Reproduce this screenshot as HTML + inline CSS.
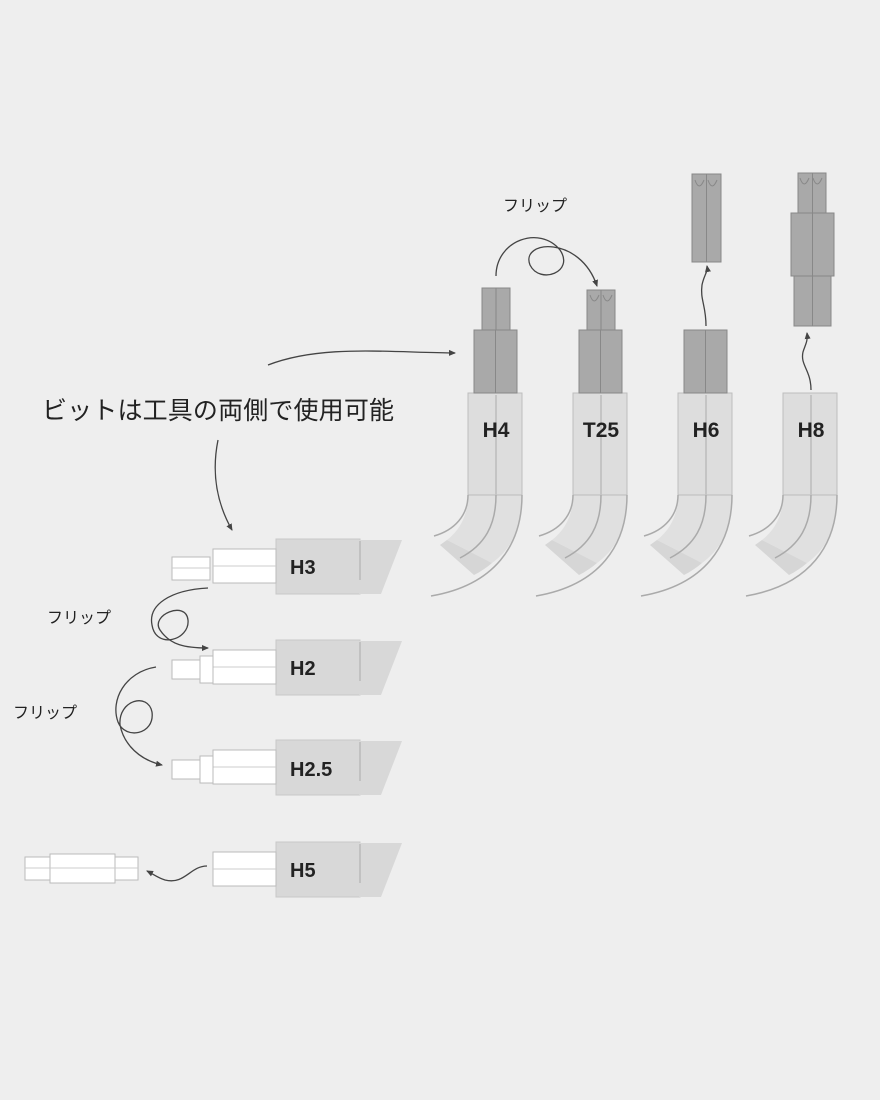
<!DOCTYPE html>
<html><head><meta charset="utf-8"><style>
html,body{margin:0;padding:0;background:#eeeeee;}
svg{display:block}
</style></head><body>
<svg width="880" height="1100" viewBox="0 0 880 1100" xmlns="http://www.w3.org/2000/svg">
<defs>
<marker id="ah" markerWidth="8" markerHeight="8" refX="6" refY="4" orient="auto" markerUnits="userSpaceOnUse"><path d="M0,1 L7,4 L0,7 Z" fill="#444"/></marker>
<g id="tool">
  <path d="M468,495 L522,495 C522,530 510,550 492,563 L447,540 C460,530 468,515 468,495 Z" fill="#e0e0e0"/>
  <path d="M447,540 L492,563 C486,568 480,572 474,575 L440,545 Z" fill="#d6d6d6"/>
  <rect x="468" y="393" width="54" height="102" fill="#dddddd" stroke="#bdbdbd"/>
  <line x1="468" y1="495" x2="522" y2="495" stroke="#bbb"/>
  <line x1="496" y1="395" x2="496" y2="495" stroke="#c4c4c4" stroke-width="2"/>
  <path d="M522,495 C522,545 495,585 431,596" fill="none" stroke="#aaa" stroke-width="1.5"/>
  <path d="M468,495 C468,515 455,530 434,536" fill="none" stroke="#aaa" stroke-width="1.5"/>
  <path d="M496,495 C496,525 485,545 460,558" fill="none" stroke="#aaa" stroke-width="1.5"/>
</g>
<g id="hex">
  <rect x="474" y="330" width="43" height="63" fill="#a9a9a9" stroke="#888"/>
  <line x1="495.5" y1="330" x2="495.5" y2="393" stroke="#888"/>
</g>
<g id="lbit">
  <rect x="276" y="539" width="84" height="55" fill="#d8d8d8" stroke="#c8c8c8"/>
  <path d="M359,540 L402,540 L381,594 L359,594 Z" fill="#d8d8d8"/>
  <line x1="360" y1="541" x2="360" y2="580" stroke="#aaa"/>
  <rect x="213" y="549" width="63" height="34" fill="#fff" stroke="#bbb"/>
  <line x1="213" y1="566" x2="276" y2="566" stroke="#ccc"/>
</g>
</defs>

<use href="#tool"/>
<use href="#tool" x="105"/>
<use href="#tool" x="210"/>
<use href="#tool" x="315"/>

<use href="#hex"/>
<rect x="482" y="288" width="28" height="42" fill="#a9a9a9" stroke="#888"/>
<line x1="496" y1="288" x2="496" y2="330" stroke="#888"/>
<use href="#hex" x="105"/>
<rect x="587" y="290" width="28" height="40" fill="#a9a9a9" stroke="#888"/>
<line x1="601" y1="290" x2="601" y2="330" stroke="#888"/>
<path d="M590,295 q4,12 9,0 M603,295 q4,12 9,0" fill="none" stroke="#888"/>
<use href="#hex" x="210"/>
<rect x="692" y="174" width="29" height="88" fill="#a9a9a9" stroke="#888"/>
<line x1="706.5" y1="174" x2="706.5" y2="262" stroke="#888"/>
<path d="M695,180 q4,12 9,0 M708,180 q4,12 9,0" fill="none" stroke="#888"/>
<rect x="798" y="173" width="28" height="40" fill="#a9a9a9" stroke="#888"/>
<path d="M800,178 q4,12 9,0 M813,178 q4,12 9,0" fill="none" stroke="#888"/>
<rect x="791" y="213" width="43" height="63" fill="#a9a9a9" stroke="#888"/>
<rect x="794" y="276" width="37" height="50" fill="#a9a9a9" stroke="#888"/>
<line x1="812.5" y1="173" x2="812.5" y2="326" stroke="#888"/>

<g font-family="Liberation Sans, sans-serif" font-weight="bold" font-size="21" fill="#222" text-anchor="middle">
<text x="496" y="437">H4</text>
<text x="601" y="437">T25</text>
<text x="706" y="437">H6</text>
<text x="811" y="437">H8</text>
</g>

<path d="M496,276 C496,240 540,225 560,250 C575,272 540,285 530,265 C520,240 580,235 597,286" fill="none" stroke="#444" stroke-width="1.3" marker-end="url(#ah)"/>
<path d="M706,326 C706,305 700,300 702,285 C704,275 708,272 707,266" fill="none" stroke="#444" stroke-width="1.3" marker-end="url(#ah)"/>
<path d="M811,390 C811,370 800,365 803,352 C805,345 808,342 807,333" fill="none" stroke="#444" stroke-width="1.3" marker-end="url(#ah)"/>

<path d="M268,365 C320,345 380,352 455,353" fill="none" stroke="#444" stroke-width="1.3" marker-end="url(#ah)"/>
<path d="M218,440 C212,470 215,500 232,530" fill="none" stroke="#444" stroke-width="1.3" marker-end="url(#ah)"/>

<text x="42" y="419" font-family="Liberation Sans, 'Noto Sans CJK JP', sans-serif" font-size="25" fill="#222" textLength="352">ビットは工具の両側で使用可能</text>
<g font-family="Liberation Sans, 'Noto Sans CJK JP', sans-serif" font-size="16" fill="#222">
<text x="503" y="211">フリップ</text>
<text x="47" y="623">フリップ</text>
<text x="13" y="718">フリップ</text>
</g>

<use href="#lbit"/>
<rect x="172" y="557" width="38" height="23" fill="#fff" stroke="#bbb"/>
<line x1="172" y1="568" x2="210" y2="568" stroke="#ccc"/>
<use href="#lbit" y="101"/>
<rect x="200" y="656" width="13" height="27" fill="#fff" stroke="#bbb"/>
<rect x="172" y="660" width="28" height="19" fill="#fff" stroke="#bbb"/>
<use href="#lbit" y="201"/>
<rect x="200" y="756" width="13" height="27" fill="#fff" stroke="#bbb"/>
<rect x="172" y="760" width="28" height="19" fill="#fff" stroke="#bbb"/>
<use href="#lbit" y="303"/>
<rect x="25" y="857" width="25" height="23" fill="#fff" stroke="#bbb"/>
<rect x="50" y="854" width="65" height="29" fill="#fff" stroke="#bbb"/>
<rect x="115" y="857" width="23" height="23" fill="#fff" stroke="#bbb"/>
<line x1="25" y1="868" x2="138" y2="868" stroke="#ccc"/>

<g font-family="Liberation Sans, sans-serif" font-weight="bold" font-size="20" fill="#222">
<text x="290" y="574">H3</text>
<text x="290" y="675">H2</text>
<text x="290" y="776">H2.5</text>
<text x="290" y="877">H5</text>
</g>

<path d="M208,588 C170,590 148,605 152,625 C156,650 190,640 188,620 C186,600 150,615 160,630 C170,645 185,648 208,648" fill="none" stroke="#444" stroke-width="1.3" marker-end="url(#ah)"/>
<path d="M156,667 C125,672 110,700 118,722 C125,740 155,735 152,712 C148,692 118,700 120,725 C124,745 140,760 162,765" fill="none" stroke="#444" stroke-width="1.3" marker-end="url(#ah)"/>
<path d="M207,866 C190,866 185,885 165,880 C158,878 153,874 147,871" fill="none" stroke="#444" stroke-width="1.3" marker-end="url(#ah)"/>
</svg>
</body></html>
